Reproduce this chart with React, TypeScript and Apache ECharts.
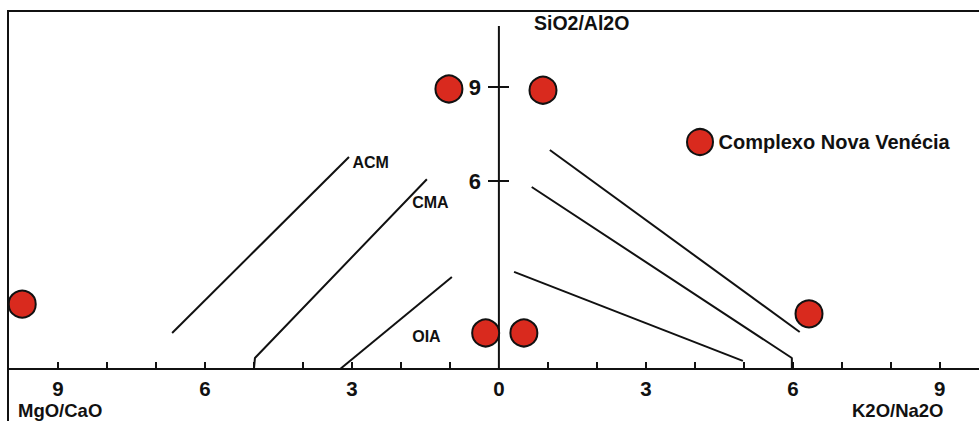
import React, { useEffect, useRef } from "react";
import * as echarts from "echarts";

// ---- data ----
const xTickValues = [-9, -8, -7, -6, -5, -4, -3, -2, -1, 1, 2, 3, 4, 5, 6, 7, 8, 9];
const xLabelValues = [-9, -6, -3, 0, 3, 6, 9];
const yTickValues = [6, 9];
const yAxisTop = 10.95;

const seriesName = "Complexo Nova Venécia";
const samplePoints: number[][] = [
  [-9.73, 2.07],
  [-1.02, 8.94],
  [0.9, 8.9],
  [6.33, 1.76],
  [-0.27, 1.15],
  [0.51, 1.15],
];

const acmLine = [[-6.67, 1.15], [-3.06, 6.77]];
const cmaLine = [[-5, 0], [-4.98, 0.35], [-1.47, 6.06]];
const oiaLine = [[-3.24, 0], [-0.96, 2.94]];
const rightLine1 = [[1.04, 6.99], [6.14, 1.18]];
const rightLine2 = [[0.67, 5.81], [5.98, 0.35], [5.98, 0]];
const rightLine3 = [[0.31, 3.1], [4.98, 0.26]];
const fieldLines = [acmLine, cmaLine, oiaLine, rightLine1, rightLine2, rightLine3];

const fieldLabels = [
  { name: "ACM", value: [-3.0, 6.58] },
  { name: "CMA", value: [-1.78, 5.33] },
  { name: "OIA", value: [-1.78, 1.05] },
];

const INK = "#111111";
const RED = "#d92a1e";
const FONT = "'Liberation Sans', Arial, sans-serif";

export default function App() {
  const ref = useRef<HTMLDivElement>(null);
  useEffect(() => {
    if (!ref.current) return;
    const chart = echarts.init(ref.current, null, { renderer: "svg" });
    const lineSeries = fieldLines.map((d) => ({
      type: "line",
      data: d,
      symbol: "none",
      silent: true,
      clip: false,
      lineStyle: { color: INK, width: 2 },
      z: 2,
    }));
    const yBase = {
      type: "value",
      min: 0,
      max: 11.43,
      position: "left",
      offset: -490,
      splitLine: { show: false },
      axisLine: { show: false, onZero: false },
    };
    const nameStyle = { fontFamily: FONT, fontSize: 18.5, lineHeight: 17, fontWeight: "bold", fill: INK };
    chart.setOption({
      animation: false,
      backgroundColor: "#ffffff",
      grid: { left: 9, top: 11, width: 970, height: 358, containLabel: false, outerBoundsMode: "none" },
      legend: {
        data: [seriesName],
        left: 686,
        top: 128,
        padding: 0,
        itemWidth: 27,
        itemHeight: 26,
        icon: "circle",
        textStyle: { fontFamily: FONT, fontSize: 20, fontWeight: "bold", color: INK },
        itemGap: 5,
        selectedMode: false,
      },
      xAxis: {
        type: "value",
        min: -10,
        max: 9.8,
        splitLine: { show: false },
        axisLine: { show: true, onZero: false, lineStyle: { color: INK, width: 2 } },
        axisTick: { show: true, inside: true, length: 7, customValues: xTickValues, lineStyle: { color: INK, width: 2 } },
        axisLabel: {
          show: true,
          customValues: xLabelValues,
          margin: 10,
          formatter: (v: number) => String(Math.abs(v)),
          fontFamily: FONT,
          fontSize: 20.5,
          lineHeight: 18,
          fontWeight: "bold",
          color: INK,
        },
      },
      yAxis: [
        {
          ...yBase,
          axisTick: { show: true, inside: false, length: 11, customValues: yTickValues, lineStyle: { color: INK, width: 2 } },
          axisLabel: {
            show: true,
            customValues: yTickValues,
            margin: 18,
            fontFamily: FONT,
            fontSize: 22,
            fontWeight: "bold",
            color: INK,
          },
        },
        {
          ...yBase,
          axisTick: { show: true, inside: true, length: 10, customValues: yTickValues, lineStyle: { color: INK, width: 2 } },
          axisLabel: { show: false },
        },
      ],
      graphic: [
        {
          type: "polyline",
          shape: { points: [[8, 421], [8, 11], [979, 11]] },
          style: { stroke: INK, lineWidth: 2, fill: "none" },
          silent: true,
        },
        { type: "text", left: 534, top: 13, style: { text: "SiO2/Al2O", ...nameStyle, fontSize: 19.5 } },
        { type: "text", left: 18, top: 401, style: { text: "MgO/CaO", ...nameStyle } },
        { type: "text", left: 852, top: 401, style: { text: "K2O/Na2O", ...nameStyle } },
      ],
      series: [
        {
          type: "line",
          data: [[0, 0], [0, yAxisTop]],
          symbol: "none",
          silent: true,
          lineStyle: { color: INK, width: 2 },
          z: 2,
        },
        ...lineSeries,
        {
          type: "scatter",
          data: fieldLabels,
          symbolSize: 1,
          silent: true,
          itemStyle: { opacity: 0 },
          label: {
            show: true,
            position: "right",
            distance: 0,
            opacity: 1,
            formatter: (p: any) => p.name,
            fontFamily: FONT,
            fontSize: 16,
            fontWeight: "bold",
            color: INK,
          },
          emphasis: { disabled: true },
          z: 3,
        },
        {
          name: seriesName,
          type: "scatter",
          data: samplePoints,
          symbol: "circle",
          symbolSize: 27,
          itemStyle: { color: RED, borderColor: INK, borderWidth: 2, opacity: 1 },
          z: 4,
        },
      ],
    });
    return () => chart.dispose();
  }, []);
  return (
    <div
      ref={ref}
      style={{ position: "fixed", left: 0, top: 0, width: 979, height: 421 }}
    />
  );
}
